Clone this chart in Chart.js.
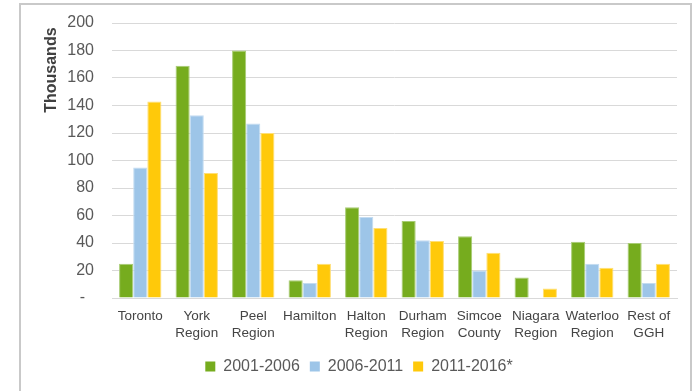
<!DOCTYPE html>
<html>
<head>
<meta charset="utf-8">
<script src="https://cdn.jsdelivr.net/npm/chart.js@4/dist/chart.umd.min.js"></script>
<style>
  html, body { margin: 0; padding: 0; background: #fff; overflow: hidden; }
  #frame {
    position: absolute; left: 19px; top: 3px;
    width: 669px; height: 388px;
    border: 2px solid #c9c9c9;
    background: #fff;
  }
  #chart { display: block; }
</style>
</head>
<body>
<div id="frame"><canvas id="chart" width="669" height="388"></canvas></div>
<script>
// regions of the GGH, net growth in thousands
var regions = [
  ['Toronto'], ['York', 'Region'], ['Peel', 'Region'], ['Hamilton'],
  ['Halton', 'Region'], ['Durham', 'Region'], ['Simcoe', 'County'],
  ['Niagara', 'Region'], ['Waterloo', 'Region'], ['Rest of', 'GGH']
];
var periods = ['2001-2006', '2006-2011', '2011-2016*'];
var growth0106 = [25, 169, 180, 13, 66, 56, 45, 15, 41, 40];
var growth0611 = [95, 133, 127, 11, 59, 42, 20, 0, 25, 11];
var growth1116 = [143, 91, 120, 25, 51, 41.5, 33, 7, 22, 25];
var yTicks = { min: 0, max: 200, step: 20 };

var seriesColors = ['#76ac1e', '#9dc5e8', '#ffc90a'];
var seriesEdges = ['#a8cc74', '#c4dcf1', '#ffdf75'];
var seriesData = [growth0106, growth0611, growth1116];

var datasets = periods.map(function (p, i) {
  return {
    label: p,
    data: seriesData[i],
    backgroundColor: seriesColors[i],
    borderColor: seriesEdges[i],
    borderWidth: 1,
    categoryPercentage: 0.75,
    barPercentage: 1.0
  };
});

new Chart(document.getElementById('chart'), {
  type: 'bar',
  data: { labels: regions, datasets: datasets },
  options: {
    responsive: false,
    animation: false,
    layout: { padding: { left: 20, right: 13, top: 18, bottom: 8.5 } },
    plugins: {
      tooltip: { enabled: false },
      legend: {
        position: 'bottom',
        labels: {
          boxWidth: 10,
          boxHeight: 10,
          padding: 10,
          color: '#595959',
          font: { family: 'Liberation Sans, Arial, sans-serif', size: 16 },
          generateLabels: function (chart) {
            // plain filled squares, no edge colour
            return Chart.defaults.plugins.legend.labels.generateLabels(chart).map(function (l) {
              l.strokeStyle = l.fillStyle;
              l.lineWidth = 0;
              return l;
            });
          }
        }
      }
    },
    scales: {
      x: {
        grid: { display: false, drawTicks: false },
        border: { display: true, color: '#d9d9d9', width: 1 },
        ticks: {
          color: '#444',
          padding: 9.6,
          maxRotation: 0,
          autoSkip: false,
          font: { family: 'Liberation Sans, Arial, sans-serif', size: 13.5, lineHeight: 1.25 }
        },
        afterFit: function (scale) { scale.height = 50.5; }
      },
      y: {
        min: yTicks.min,
        max: yTicks.max,
        border: { display: false },
        grid: { color: '#d9d9d9', lineWidth: 1, drawTicks: false },
        ticks: {
          stepSize: yTicks.step,
          padding: 18,
          color: '#595959',
          font: { family: 'Liberation Sans, Arial, sans-serif', size: 16 },
          callback: function (v) { return v === 0 ? '-  ' : v; }
        },
        title: {
          display: true,
          text: 'Thousands ',
          align: 'end',
          color: '#404040',
          padding: { top: 1, bottom: 0 },
          font: { family: 'Liberation Sans, Arial, sans-serif', size: 16, weight: 'bold' }
        },
        afterFit: function (scale) {
          scale.width = 71;
          scale.paddingTop = 0;
          scale.paddingBottom = 0;
        }
      }
    }
  }
});
</script>
</body>
</html>
